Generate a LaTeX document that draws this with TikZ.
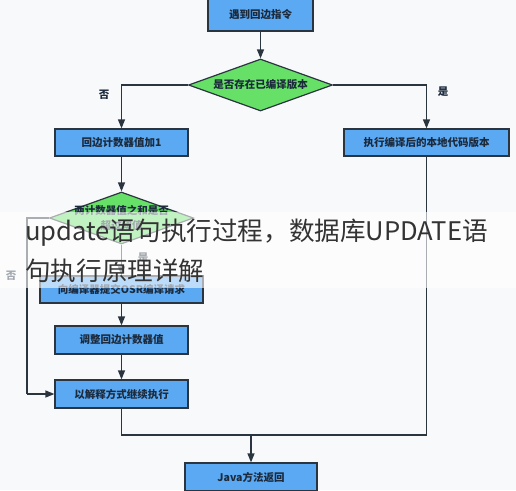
\documentclass[tikz,border=0pt]{standalone}
\usepackage{fontspec}
\setmainfont{Noto Sans CJK SC}
\usetikzlibrary{shapes.geometric,arrows.meta}
\definecolor{bgc}{HTML}{F8F9FA}
\definecolor{boxblue}{HTML}{5AA9F2}
\definecolor{dgreen}{HTML}{66E066}
\definecolor{edgec}{HTML}{2B3540}
\definecolor{txtc}{HTML}{1C2A3C}
\definecolor{wmc}{HTML}{333333}
\tikzset{
  procbox/.style={draw=edgec, line width=1.2pt, fill=boxblue, inner sep=0pt,
    text=txtc, font=\fontsize{10.5}{12}\selectfont\bfseries},
  decide/.style={diamond, draw=edgec, line width=1.2pt, fill=dgreen, inner sep=0pt,
    minimum width=144pt, minimum height=52pt},
  dtext/.style={text=txtc, align=center, inner sep=0pt,
    font=\fontsize{10.5}{15}\selectfont\bfseries},
  flow/.style={draw=edgec, line width=1.2pt, -{Triangle[length=9pt,width=7pt]}},
  line/.style={draw=edgec, line width=1.2pt},
  lab/.style={text=txtc, font=\fontsize{10.5}{12}\selectfont\bfseries, inner sep=0pt},
  wm/.style={anchor=west, inner sep=0pt, text=wmc, font=\fontsize{25.6}{30}\selectfont},
}
\begin{document}
\begin{tikzpicture}[x=1pt,y=-1pt]
\useasboundingbox (0,0) rectangle (516,490);
\fill[bgc] (0,0) rectangle (516,490);

\node[procbox, minimum width=105pt, minimum height=32pt] (top) at (260.5,15) {遇到回边指令};
\node[decide] (d1) at (260.5,85) {};
\node[dtext] (d1t) at (d1) {是否存在已编译版本};
\node[procbox, minimum width=133pt, minimum height=27pt] (b1) at (121.5,142.5) {回边计数器值加1};
\node[procbox, minimum width=165pt, minimum height=27pt] (b2) at (426.5,142.5) {执行编译后的本地代码版本};
\node[decide] (d2) at (121.5,218) {};
\node[dtext] (d2t) at (d2) {两计数器值之和是否\\超过阈值};
\node[procbox, minimum width=163pt, minimum height=27pt] (b3) at (121.5,289.5) {向编译器提交OSR编译请求};
\node[procbox, minimum width=133pt, minimum height=28pt] (b4) at (121.5,340) {调整回边计数器值};
\node[procbox, minimum width=133pt, minimum height=28pt] (b5) at (121.5,394) {以解释方式继续执行};
\node[procbox, minimum width=132pt, minimum height=28pt] (java) at (251,477) {Java方法返回};

\coordinate (lft) at (27,218);
\coordinate (lfb) at (27,394);
\coordinate (jl) at (121.5,435);
\coordinate (jm) at (251,435);
\coordinate (jr) at (426.5,435);

\draw[flow] (top) -- (d1);
\draw[flow] (d1.west) -| (b1.north);
\draw[flow] (d1.east) -| (b2.north);
\node[lab] (no1) at (104,95) {否};
\node[lab] (yes1) at (443,92) {是};
\draw[flow] (b1) -- (d2);
\draw[flow] (d2) -- (b3);
\node[lab] (yes2) at (143,258) {是};
\draw[line] (d2.west) -- (lft) -- (lfb);
\draw[flow] (lfb) -- (b5.west);
\node[lab] (no2) at (11,276) {否};
\draw[flow] (b3) -- (b4);
\draw[flow] (b4) -- (b5);
\draw[line] (b5.south) -- (jl) -- (jr) -- (b2.south);
\draw[flow] (jm) -- (java.north);

% watermark band
\fill[white, opacity=0.6] (0,212) rectangle (516,288);
\node[wm] (wm1) at (25,233) {update语句执行过程，数据库UPDATE语};
\node[wm] (wm2) at (25,271) {句执行原理详解};
\end{tikzpicture}
\end{document}
